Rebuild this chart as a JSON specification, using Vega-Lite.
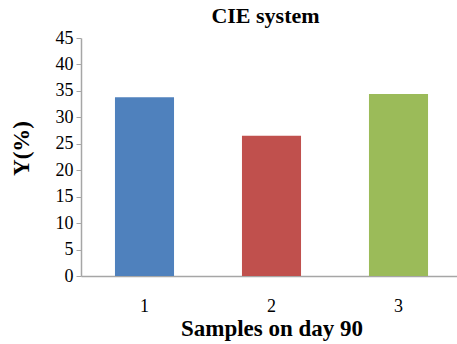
{
  "$schema": "https://vega.github.io/schema/vega-lite/v6.json",
  "width": 381,
  "height": 238,
  "autosize": "none",
  "padding": {"left": 81, "top": 38, "right": 0, "bottom": 68},
  "background": "white",
  "title": {
    "text": "CIE system",
    "font": "Liberation Serif",
    "fontSize": 22,
    "fontWeight": "bold",
    "color": "black",
    "anchor": "middle",
    "offset": 1,
    "dx": -6
  },
  "data": {
    "values": [
      {"sample": "1", "Y": 33.8},
      {"sample": "2", "Y": 26.5},
      {"sample": "3", "Y": 34.4}
    ]
  },
  "mark": {"type": "bar"},
  "encoding": {
    "x": {
      "field": "sample",
      "type": "ordinal",
      "scale": {"paddingInner": 0.535, "paddingOuter": 0.2675},
      "axis": {
        "title": "Samples on day 90",
        "titleFontSize": 23,
        "titlePadding": 2,
        "labelFontSize": 18,
        "labelAngle": 0,
        "labelPadding": 21,
        "ticks": false
      }
    },
    "y": {
      "field": "Y",
      "type": "quantitative",
      "scale": {"domain": [0, 45], "nice": false},
      "axis": {
        "title": "Y(%)",
        "titleFontSize": 23,
        "titleBaseline": "middle",
        "titleX": -60,
        "titleY": 110,
        "labelFontSize": 18,
        "labelPadding": 3,
        "values": [0, 5, 10, 15, 20, 25, 30, 35, 40, 45],
        "tickColor": "#a6a6a6",
        "tickSize": 5,
        "grid": false
      }
    },
    "color": {
      "field": "sample",
      "type": "nominal",
      "scale": {"range": ["#4F81BD", "#C0504D", "#9BBB59"]},
      "legend": null
    }
  },
  "config": {
    "view": {"stroke": null},
    "font": "Liberation Serif",
    "axis": {
      "labelFont": "Liberation Serif",
      "titleFont": "Liberation Serif",
      "labelColor": "black",
      "titleColor": "black",
      "titleFontWeight": "bold",
      "domainColor": "#a6a6a6",
      "domainWidth": 1.5
    }
  }
}
